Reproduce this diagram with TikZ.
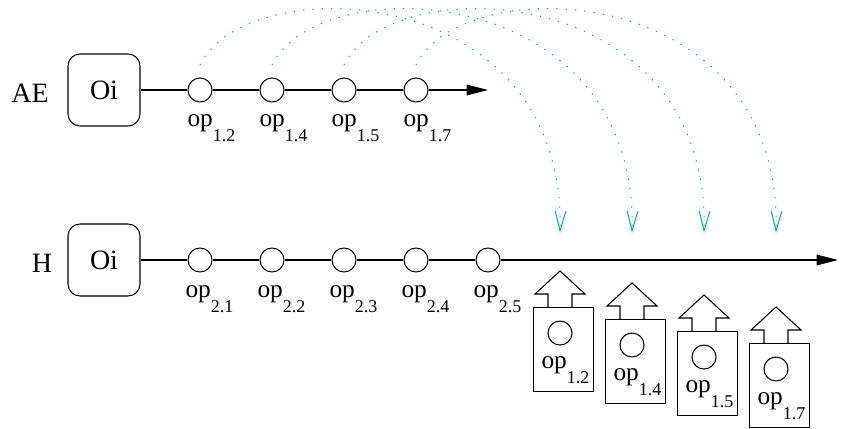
\documentclass[tikz,border=0pt]{standalone}
\usepackage{fontspec}
\setmainfont{Liberation Serif}
\usetikzlibrary{arrows.meta}
\definecolor{arccol}{RGB}{0,176,176}
\newcommand{\opl}[1]{{\fontsize{19}{21}\selectfont op}\raisebox{-11.5pt}{\fontsize{13.5}{14}\selectfont #1}}
\begin{document}
\begin{tikzpicture}[x=0.75pt,y=-0.75pt,line width=0.8pt,
  every node/.style={font=\fontsize{21}{24}\selectfont,inner sep=0pt},
  opc/.style={circle,draw,minimum size=18pt,fill=white},
  oibox/.style={draw,rounded corners=9pt,minimum width=54pt,minimum height=54pt},
  lab/.style={anchor=base west},
  flow/.style={-{Triangle[length=16pt,width=8pt]}},
  jump/.style={draw=arccol,line width=0.8pt,dash pattern=on 1pt off 6pt,
    -{Straight Barb[length=15pt,width=8pt,line width=0.8pt]}},
  opbox/.style={draw,minimum width=45.5pt,minimum height=63pt,anchor=north},
  uparrow/.style={draw,line width=0.8pt,fill=white}]
\useasboundingbox (0,0) rectangle (841,428);

% ---------- AE row ----------
\node (ae) at (30,93) {AE};
\node[oibox] (oiA) at (104,90) {Oi};
\foreach \i/\x in {1/200,2/272,3/344,4/416}{
  \node[opc] (a\i) at (\x,90) {};
}
\coordinate (aend) at (488,90);
\draw[flow] (oiA) -- (a1) -- (a2) -- (a3) -- (a4) -- (aend);
\node[lab] (la1) at (187,126) {\opl{1.2}};
\node[lab] (la2) at (259,126) {\opl{1.4}};
\node[lab] (la3) at (331,126) {\opl{1.5}};
\node[lab] (la4) at (403,126) {\opl{1.7}};

% ---------- H row ----------
\node (h) at (42,263) {H};
\node[oibox] (oiH) at (104,260) {Oi};
\foreach \i/\x in {1/200,2/272,3/344,4/416,5/488}{
  \node[opc] (b\i) at (\x,260) {};
}
\coordinate (hend) at (838,260);
\draw[flow] (oiH) -- (b1) -- (b2) -- (b3) -- (b4) -- (b5) -- (hend);
\node[lab] (lb1) at (185,297) {\opl{2.1}};
\node[lab] (lb2) at (257,297) {\opl{2.2}};
\node[lab] (lb3) at (329,297) {\opl{2.3}};
\node[lab] (lb4) at (401,297) {\opl{2.4}};
\node[lab] (lb5) at (473,297) {\opl{2.5}};

% ---------- dotted jumps ----------
\foreach \i in {0,1,2,3}{
  \coordinate (s\i) at (200+72*\i,65);
  \coordinate (t\i) at (560+72*\i,233);
  \draw[jump] (s\i) .. controls +(46,-96) and +(6,-255) .. (t\i);
}

% ---------- moved operation boxes ----------
\foreach \i/\s in {0/1.2,1/1.4,2/1.5,3/1.7}{
  \coordinate (p\i) at (560+72*\i,307+12*\i);
  \draw[uparrow] ([shift={(-12,0)}]p\i) -- ++(0,-13) -- ++(-13,0) -- ++(25,-23)
     -- ++(25,23) -- ++(-13,0) -- ++(0,13);
  \node[opbox] (box\i) at ([shift={(3.5,0)}]p\i) {};
  \node[opc] (c\i) at ([shift={(0,26)}]p\i) {};
  \node[lab] (lc\i) at ([shift={(-19,61)}]p\i) {\opl{\s}};
}
\end{tikzpicture}
\end{document}
